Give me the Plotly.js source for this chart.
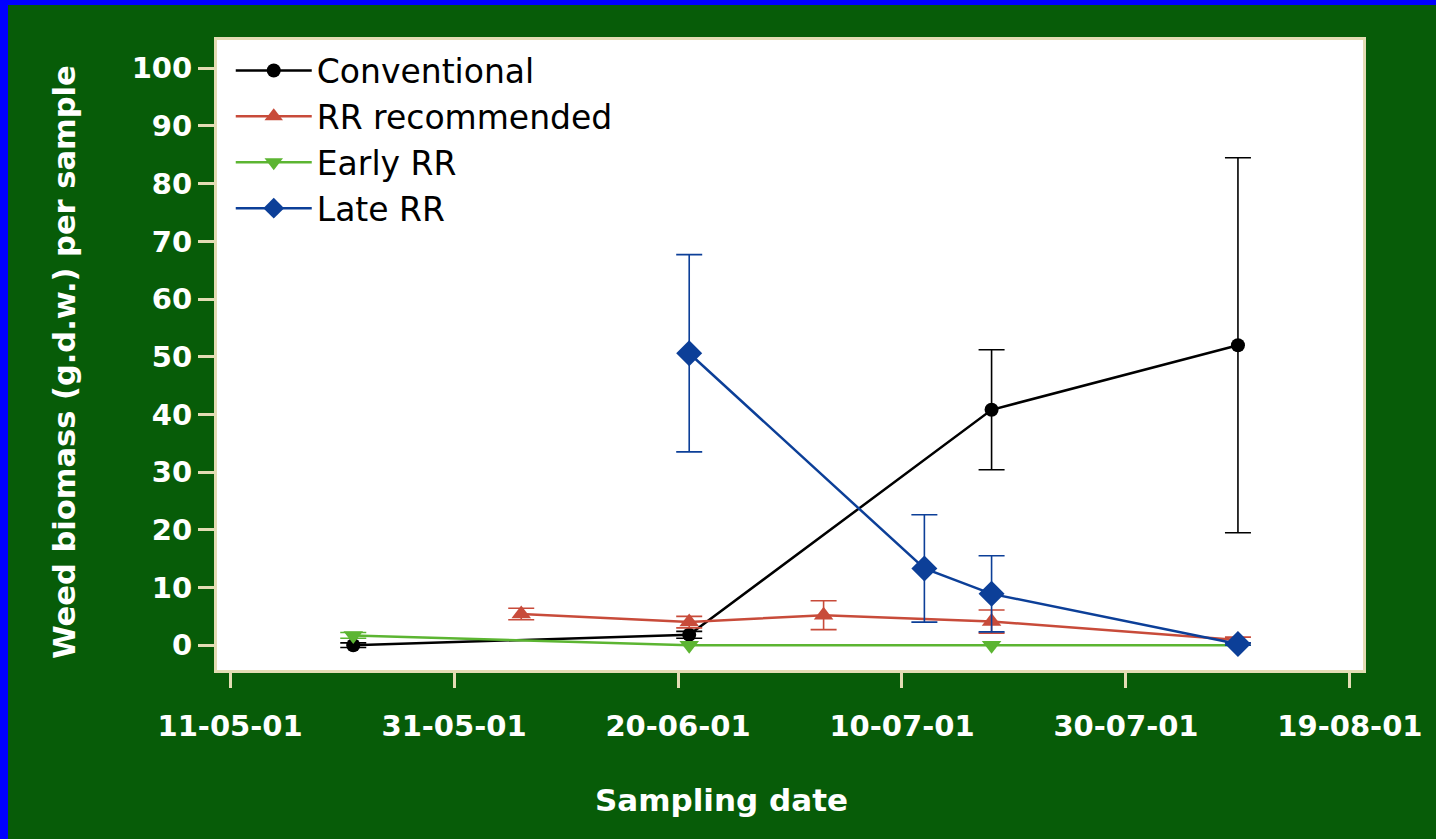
<!DOCTYPE html>
<html>
<head>
<meta charset="utf-8">
<script src="https://cdn.plot.ly/plotly-3.0.1.min.js"></script>
<style>
html,body{margin:0;padding:0;background:#0000ff;width:1436px;height:839px;overflow:hidden;}
#chart{position:absolute;left:8px;top:5px;width:1428px;height:834px;}
</style>
</head>
<body>
<div id="chart"></div>
<script>
// Data
const seriesNames = ["Conventional", "RR recommended", "Early RR", "Late RR"];

const convDates = ["2001-05-22", "2001-06-21", "2001-07-18", "2001-08-09"];
const convValues = [0, 1.8, 40.8, 52.0];
const convErr = [0.4, 0.6, 10.4, 32.5];

const rrRecDates = ["2001-06-06", "2001-06-21", "2001-07-03", "2001-07-18", "2001-08-09"];
const rrRecValues = [5.4, 4.0, 5.2, 4.1, 0.9];
const rrRecErr = [1.0, 1.0, 2.5, 2.0, 0.5];

const earlyDates = ["2001-05-22", "2001-06-21", "2001-07-18", "2001-08-09"];
const earlyValues = [1.7, 0, 0, 0];
const earlyErr = [0.5, 0, 0, 0];

const lateDates = ["2001-06-21", "2001-07-12", "2001-07-18", "2001-08-09"];
const lateValues = [50.6, 13.3, 8.9, 0.2];
const lateErr = [17.1, 9.3, 6.6, 0.2];

const xTickVals = ["2001-05-11", "2001-05-31", "2001-06-20", "2001-07-10", "2001-07-30", "2001-08-19"];
const xTickLabels = ["11-05-01", "31-05-01", "20-06-01", "10-07-01", "30-07-01", "19-08-01"];
const yTickVals = [0, 10, 20, 30, 40, 50, 60, 70, 80, 90, 100];

const colors = ["#000000", "#c84b3a", "#5cb532", "#0c3f98"];
const symbols = ["circle", "triangle-up", "triangle-down", "diamond"];
const sizes = [14, 17, 17, 20];

const allDates = [convDates, rrRecDates, earlyDates, lateDates];
const allValues = [convValues, rrRecValues, earlyValues, lateValues];
const allErr = [convErr, rrRecErr, earlyErr, lateErr];

const traces = seriesNames.map((name, i) => ({
  type: "scatter",
  mode: "lines+markers",
  name: name,
  x: allDates[i],
  y: allValues[i],
  line: {color: colors[i], width: 2.5},
  marker: {symbol: symbols[i], size: sizes[i], color: colors[i]},
  error_y: {type: "data", array: allErr[i], visible: true, color: colors[i], thickness: 1.6, width: 13}
}));

const beige = "#e3dcb4";
const FONT = "DejaVu Sans, Liberation Sans, Arial, sans-serif";
const layout = {
  paper_bgcolor: "#075c08",
  plot_bgcolor: "#ffffff",
  margin: {l: 209, r: 73, t: 35, b: 169},
  showlegend: true,
  legend: {
    x: 0.012, y: 0.996, xanchor: "left", yanchor: "top",
    bgcolor: "rgba(0,0,0,0)",
    font: {family: FONT, size: 33, color: "#000000"},
    itemwidth: 76, tracegroupgap: 0
  },
  xaxis: {
    type: "date",
    range: ["2001-05-09 20:00", "2001-08-20 04:00"],
    tickvals: xTickVals,
    ticktext: xTickLabels,
    ticks: "outside", ticklen: 15, tickwidth: 3, tickcolor: beige,
    ticklabelstandoff: 13,
    showline: true, linecolor: beige, linewidth: 3, mirror: true,
    showgrid: false, zeroline: false,
    tickfont: {family: FONT, size: 29, color: "#ffffff", weight: "bold"}
  },
  yaxis: {
    range: [-4.3, 104.9],
    tickvals: yTickVals,
    ticks: "outside", ticklen: 16, tickwidth: 3, tickcolor: beige,
    showline: true, linecolor: beige, linewidth: 3, mirror: true,
    showgrid: false, zeroline: false,
    tickfont: {family: FONT, size: 29, color: "#ffffff", weight: "bold"}
  },
  annotations: [{
    text: "Sampling date", xref: "paper", yref: "paper",
    x: 0.44, y: -0.206, xanchor: "center", yanchor: "middle", showarrow: false,
    font: {family: FONT, size: 31, color: "#ffffff", weight: "bold"}
  }, {
    text: "Weed biomass (g.d.w.) per sample", xref: "paper", yref: "paper",
    x: -0.1326, y: 0.489, xanchor: "center", yanchor: "middle", showarrow: false,
    textangle: -90,
    font: {family: FONT, size: 30.5, color: "#ffffff", weight: "bold"}
  }]
};

Plotly.newPlot("chart", traces, layout, {displayModeBar: false, responsive: false});
</script>
</body>
</html>
